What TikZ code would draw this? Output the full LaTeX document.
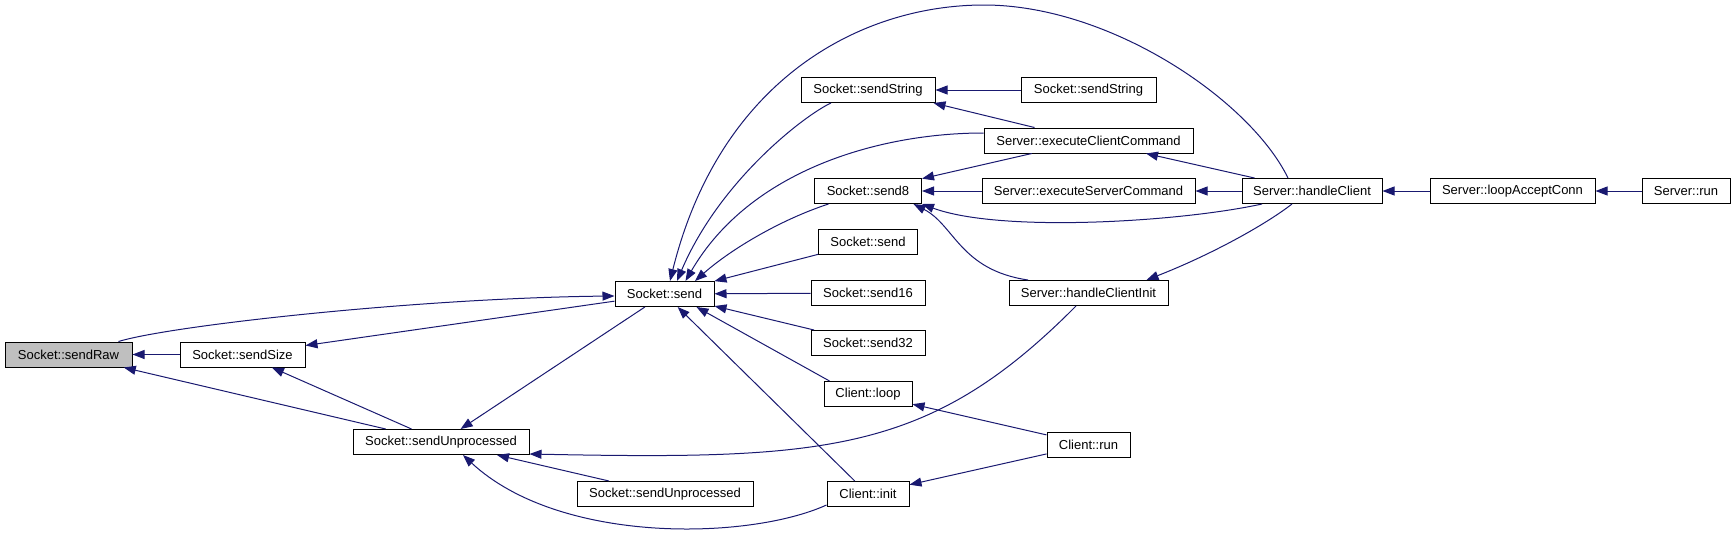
\documentclass[tikz,border=0pt]{standalone}
\usepackage{fontspec}
\setmainfont{Liberation Sans}
\usetikzlibrary{arrows.meta}
\definecolor{callblue}{RGB}{25,25,112}
\definecolor{focusgray}{RGB}{191,191,191}

\begin{document}
\begin{tikzpicture}[x=1pt,y=-1pt,
    fn/.style={draw=black,line width=1pt,fill=white,minimum height=25pt,inner sep=0pt,font=\fontsize{13}{15}\selectfont},
    call/.style={draw=callblue,line width=1pt,-{Triangle[length=12pt,width=9pt]}}]
    \useasboundingbox (0,0) rectangle (1735,536);
    \node[fn,fill=focusgray,minimum width=127pt] (sendRaw) at (68.5,354.5) {Socket::sendRaw};
    \node[fn,minimum width=125pt] (sendSize) at (242.5,354.5) {Socket::sendSize};
    \node[fn,minimum width=176pt] (sendUnproc) at (441,442) {Socket::sendUnprocessed};
    \node[fn,minimum width=99pt] (send) at (664.5,294) {Socket::send};
    \node[fn,minimum width=176pt] (sendUnprocB) at (665,494) {Socket::sendUnprocessed};
    \node[fn,minimum width=134pt] (sendString) at (868,90) {Socket::sendString};
    \node[fn,minimum width=107pt] (send8) at (868,191) {Socket::send8};
    \node[fn,minimum width=99pt] (sendB) at (868,241.5) {Socket::send};
    \node[fn,minimum width=114pt] (send16) at (868,293) {Socket::send16};
    \node[fn,minimum width=114pt] (send32) at (868,343) {Socket::send32};
    \node[fn,minimum width=88pt] (clientLoop) at (868,394) {Client::loop};
    \node[fn,minimum width=82pt] (clientInit) at (868,494) {Client::init};
    \node[fn,minimum width=135pt] (sendStringB) at (1088.5,90) {Socket::sendString};
    \node[fn,minimum width=209pt] (execClient) at (1088.5,140.5) {Server::executeClientCommand};
    \node[fn,minimum width=213pt] (execServer) at (1088.5,191) {Server::executeServerCommand};
    \node[fn,minimum width=159pt] (handleInit) at (1088.5,293) {Server::handleClientInit};
    \node[fn,minimum width=83pt] (clientRun) at (1088.5,444.5) {Client::run};
    \node[fn,minimum width=140pt] (handleClient) at (1312,191) {Server::handleClient};
    \node[fn,minimum width=165pt] (loopAccept) at (1512.5,191) {Server::loopAcceptConn};
    \node[fn,minimum width=88pt] (serverRun) at (1686,191) {Server::run};
    \coordinate (arcTop) at (984,5);

    \draw[call] (sendSize) -- (sendRaw);
    \draw[call] ([xshift=-14pt]sendRaw.north east) .. controls +(52,-16) and +(-195,2) .. ([yshift=-2pt]send.west);
    \draw[call] (send) -- (sendSize);
    \draw[call] (sendUnproc) -- (sendRaw);
    \draw[call] (sendUnproc) -- (sendSize);
    \draw[call] (send) -- (sendUnproc);
    \draw[call] ([xshift=-37pt]sendString.south) .. controls +(-26,12) and +(43,-101) .. ([xshift=12.5pt]send.north);
    \draw[call] ([yshift=7.5pt]execClient.west) .. controls +(-104,0) and +(64.5,-111) .. ([xshift=21pt]send.north);
    \draw[call] ([xshift=-24pt]handleClient.north) .. controls +(-38,-78) and +(126,0) .. (arcTop)
        .. controls +(-124,0) and +(50,-201) .. ([xshift=5.5pt]send.north);
    \draw[call] ([xshift=-39.5pt]send8.south) .. controls +(-49,16) and +(35,-31) .. ([xshift=30.5pt]send.north);
    \draw[call] (sendB) -- (send);
    \draw[call] (send16) -- (send);
    \draw[call] (send32) -- (send);
    \draw[call] ([xshift=6pt]clientLoop.north west) -- ([xshift=32pt]send.south);
    \draw[call] (clientInit) -- (send);
    \draw[call] ([xshift=-54pt]execClient.north) -- ([xshift=-2pt]sendString.south east);
    \draw[call] (sendStringB) -- (sendString);
    \draw[call] (execClient) -- (send8);
    \draw[call] (execServer) -- (send8);
    \draw[call] ([xshift=-50pt]handleClient.south) .. controls +(-82,18) and +(78,29) .. (send8.south east);
    \draw[call] ([xshift=-60.5pt]handleInit.north) .. controls +(-68,-10) and +(41,21) .. ([xshift=45.5pt]send8.south);
    \draw[call] (handleClient) -- (execClient);
    \draw[call] (handleClient) -- (execServer);
    \draw[call] ([xshift=-20pt]handleClient.south) .. controls +(-27,21) and +(64,-25) .. ([xshift=-22pt]handleInit.north east);
    \draw[call] (loopAccept) -- (handleClient);
    \draw[call] (serverRun) -- (loopAccept);
    \draw[call] ([xshift=-12.5pt]handleInit.south) .. controls +(-146,147) and +(298,6) .. ([yshift=1pt]sendUnproc.south east);
    \draw[call] (sendUnprocB) -- (sendUnproc);
    \draw[call] ([yshift=2pt]clientInit.south west) .. controls +(-77,35) and +(97,90) .. ([xshift=22pt]sendUnproc.south);
    \draw[call] (clientRun) -- (clientLoop);
    \draw[call] (clientRun) -- (clientInit);
\end{tikzpicture}
\end{document}
